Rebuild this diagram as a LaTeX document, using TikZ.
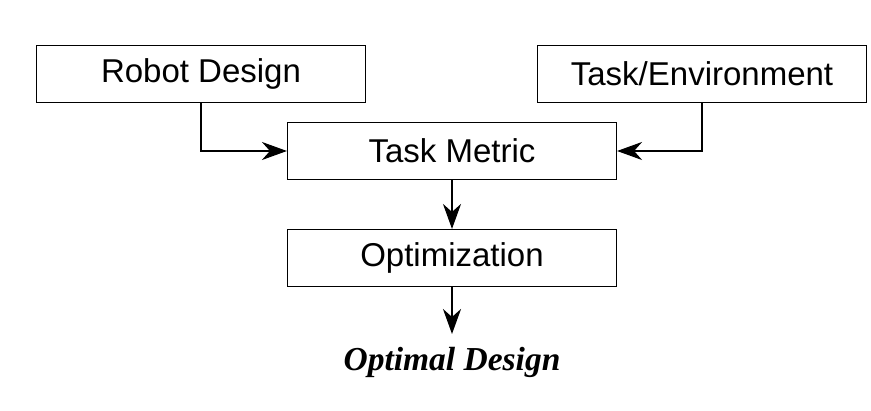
\documentclass[tikz,border=0pt]{standalone}
\usepackage{fontspec}
\setmainfont{Liberation Serif}
\setsansfont{Liberation Sans}
\usetikzlibrary{arrows.meta}

\tikzset{
  blockbox/.style={draw, line width=1.1pt, minimum width=329pt, minimum height=57pt,
    inner sep=0pt, font=\sffamily\fontsize{33}{37}\selectfont},
  flow/.style={line width=2.2pt, -{Stealth[length=25pt, width=18pt, inset=8pt]}}
}

\begin{document}
\begin{tikzpicture}[x=1pt, y=-1pt]
  \useasboundingbox (0,0) rectangle (871,411);

  % input blocks
  \node[blockbox] (robot) at (201,74) {Robot Design};
  \node[blockbox] (task) at (702,74) {Task/Environment};

  % metric and optimization
  \node[blockbox] (metric) at (452,151) {Task Metric};
  \node[blockbox] (optim) at (452,258) {Optimization};

  % result
  \node[font=\bfseries\itshape\fontsize{33.5}{38}\selectfont] (result) at (452,362) {Optimal Design};
  \coordinate (resulttop) at (452,334);

  % connectors
  \draw[flow] (robot.south) |- (metric.west);
  \draw[flow] (task.south) |- (metric.east);
  \draw[flow] (metric.south) -- (optim.north);
  \draw[flow] (optim.south) -- (resulttop);

\end{tikzpicture}
\end{document}
